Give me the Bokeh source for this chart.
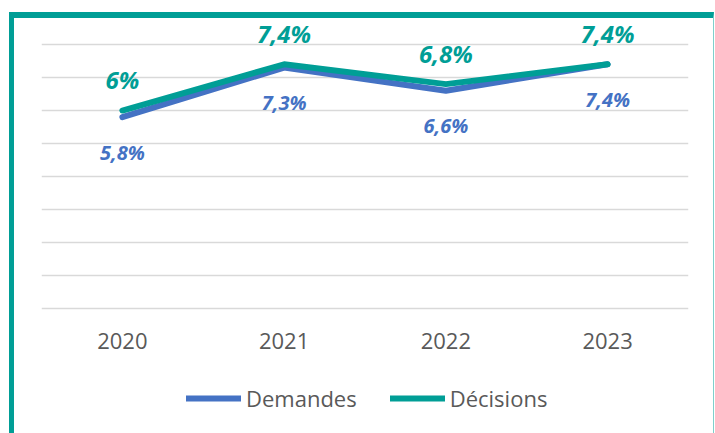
from bokeh.plotting import figure
from bokeh.layouts import column
from bokeh.models import (ColumnDataSource, Range1d, FixedTicker, Legend, LegendItem, LabelSet)
from bokeh.core.properties import value
from bokeh.embed import file_html
from bokeh.resources import INLINE

# ---- data ----
years = ["2020", "2021", "2022", "2023"]
demandes = [5.8, 7.3, 6.6, 7.4]
decisions = [6.0, 7.4, 6.8, 7.4]
grid_ticks = [0, 1, 2, 3, 4, 5, 6, 7, 8]
series_names = ["Demandes", "Décisions"]

BLUE = "#4472C4"
TEAL = "#009E96"
FONT = "Open Sans"
W = 699


def fmt(v):
    return f"{v:g}".replace(".", ",") + "%"


src_dem = ColumnDataSource(dict(x=years, y=demandes, t=[fmt(v) for v in demandes]))
src_dec = ColumnDataSource(dict(x=years, y=decisions, t=[fmt(v) for v in decisions]))

p = figure(x_range=years, y_range=Range1d(-0.15, 8.758),
           width=W, height=352,
           output_backend="svg", toolbar_location=None,
           y_axis_location=None,
           min_border_left=27, min_border_right=25,
           min_border_top=1, min_border_bottom=57)

p.outline_line_color = None
p.background_fill_color = "white"
p.border_fill_color = "white"
p.xgrid.visible = False
p.ygrid.ticker = FixedTicker(ticks=grid_ticks)
p.ygrid.grid_line_color = "#D9D9D9"
p.ygrid.grid_line_width = 1.6

ax = p.xaxis[0]
ax.axis_line_color = None
ax.major_tick_line_color = None
ax.minor_tick_line_color = None
ax.major_tick_out = 0
ax.major_label_standoff = 19
ax.major_label_text_font = FONT
ax.major_label_text_font_size = "22px"
ax.major_label_text_color = "#595959"

line_style = dict(line_width=6, line_join="round", line_cap="round")
r_dem = p.line("x", "y", source=src_dem, line_color=BLUE, **line_style)
r_dec = p.line("x", "y", source=src_dec, line_color=TEAL, **line_style)

lab_dem = LabelSet(x="x", y="y", text="t", source=src_dem, y_offset=-35,
                   text_font=value(FONT), text_font_size="20px",
                   text_font_style="bold italic", text_color=BLUE,
                   text_align="center", text_baseline="middle")
lab_dec = LabelSet(x="x", y="y", text="t", source=src_dec, y_offset=31,
                   text_font=value(FONT), text_font_size="24px",
                   text_font_style="bold italic", text_color=TEAL,
                   text_align="center", text_baseline="middle")
p.add_layout(lab_dem)
p.add_layout(lab_dec)

# ---- legend strip under the chart ----
# the same series are drawn here outside the visible y range (clipped),
# only so the legend has renderers to sample its glyphs from
pl = figure(x_range=years, y_range=Range1d(100, 101),
            width=W, height=63, output_backend="svg", toolbar_location=None,
            x_axis_location=None, y_axis_location=None, min_border=0)
pl.outline_line_color = None
pl.grid.visible = False
pl.border_fill_color = "white"
pl.background_fill_color = "white"
l_dem = pl.line("x", "y", source=src_dem, line_color=BLUE, **line_style)
l_dec = pl.line("x", "y", source=src_dec, line_color=TEAL, **line_style)
legend = Legend(items=[LegendItem(label=series_names[0], renderers=[l_dem]),
                       LegendItem(label=series_names[1], renderers=[l_dec])],
                orientation="horizontal", location=(145, 20),
                glyph_width=55, glyph_height=20, label_standoff=5, spacing=33,
                label_text_font=FONT, label_text_font_size="22px",
                label_text_color="#595959",
                border_line_color=None, background_fill_alpha=0,
                margin=0, padding=0)
pl.add_layout(legend)

layout = column(p, pl, spacing=0,
                styles={"margin-left": "9px", "margin-top": "12px",
                        "border-left": "5px solid " + TEAL,
                        "border-top": "6px solid " + TEAL,
                        "border-right": "1px solid #7FCFCB",
                        "background": "white"})

open("out.html", "w").write(file_html(layout, INLINE))
